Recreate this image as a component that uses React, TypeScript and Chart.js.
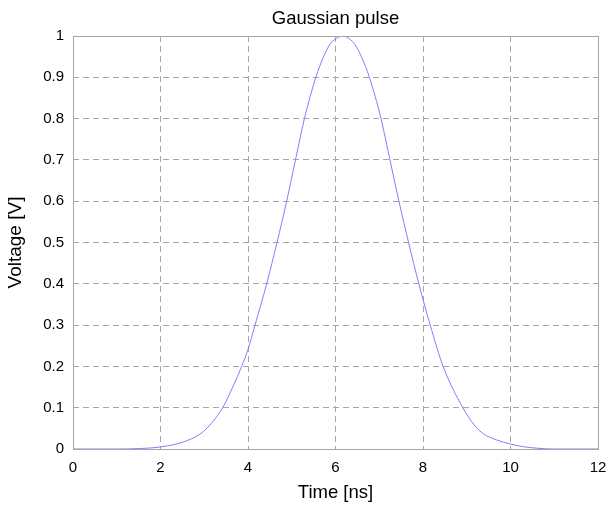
import React, { useEffect, useRef } from "react";
import { Chart, registerables } from "chart.js";

Chart.register(...registerables);

// Time [ns] samples
const times = [
  0, 1.0, 1.5, 2.0, 2.52, 2.9, 3.13, 3.42, 3.66, 3.855, 4.0, 4.16, 4.427,
  4.663, 4.884, 5.085, 5.29, 5.55, 5.72, 5.874, 6.0, 6.16, 6.32, 6.44, 6.6,
  6.775, 7.04, 7.245, 7.45, 7.67, 7.905, 8.165, 8.46, 8.91, 9.17, 9.38, 9.68,
  10.0, 10.29, 10.6, 11.0, 12.0,
];
// Voltage [V] at those times
const voltages = [
  0, 0, 0.001, 0.005, 0.017, 0.036, 0.058, 0.1, 0.152, 0.2, 0.241, 0.3, 0.4,
  0.5, 0.6, 0.7, 0.8, 0.9, 0.948, 0.98, 0.993, 1.0, 0.993, 0.98, 0.948, 0.9,
  0.8, 0.7, 0.6, 0.5, 0.4, 0.3, 0.2, 0.1, 0.058, 0.037, 0.022, 0.012, 0.0056,
  0.002, 0, 0,
];

const xTickValues = [0, 2, 4, 6, 8, 10, 12];
const xTickLabels = ["0", "2", "4", "6", "8", "10", "12"];
const yTickValues = [0, 0.1, 0.2, 0.3, 0.4, 0.5, 0.6, 0.7, 0.8, 0.9, 1];
const yTickLabels = ["0", "0.1", "0.2", "0.3", "0.4", "0.5", "0.6", "0.7", "0.8", "0.9", "1"];

const titleText = "Gaussian pulse";
const xTitle = "Time [ns]";
const yTitle = "Voltage [V]";

const FONT = "'Liberation Sans', Arial, Helvetica, sans-serif";
const GRID = "#a6a6a6";

function labelFor(values: number[], labels: string[], v: number): string {
  for (let i = 0; i < values.length; i++) {
    if (Math.abs(values[i] - v) < 1e-6) return labels[i];
  }
  return "";
}

const boxPlugin = {
  id: "boxBorder",
  afterDatasetsDraw(chart: any) {
    const { ctx, chartArea } = chart;
    ctx.save();
    ctx.strokeStyle = GRID;
    ctx.lineWidth = 1;
    ctx.setLineDash([]);
    ctx.strokeRect(
      Math.round(chartArea.left) + 0.5,
      Math.round(chartArea.top) + 0.5,
      Math.round(chartArea.right - chartArea.left),
      Math.round(chartArea.bottom - chartArea.top)
    );
    // title centred over the plot area
    ctx.fillStyle = "#000";
    ctx.font = `18.5px ${FONT}`;
    ctx.textAlign = "center";
    ctx.textBaseline = "alphabetic";
    ctx.fillText(titleText, (chartArea.left + chartArea.right) / 2, 24.3);
    ctx.restore();
  },
};

export default function App() {
  const ref = useRef<HTMLCanvasElement | null>(null);

  useEffect(() => {
    if (!ref.current) return;
    const chart = new Chart(ref.current, {
      type: "line",
      data: {
        datasets: [
          {
            data: times.map((t, i) => ({ x: t, y: voltages[i] })),
            borderColor: "#7f7fff",
            borderWidth: 1,
            pointRadius: 0,
            fill: false,
            cubicInterpolationMode: "monotone",
          },
        ],
      },
      options: {
        animation: false,
        responsive: false,
        maintainAspectRatio: false,
        layout: { padding: { left: 0, right: 11, top: 0, bottom: 0 } },
        plugins: {
          legend: { display: false },
          tooltip: { enabled: false },
          title: {
            display: true,
            text: titleText,
            color: "rgba(0,0,0,0)",
            font: { family: FONT, size: 18, weight: "normal" },
            padding: { top: 7.2, bottom: 7.2 },
          },
        },
        scales: {
          x: {
            type: "linear",
            min: 0,
            max: 12,
            afterBuildTicks(scale: any) {
              scale.ticks = xTickValues.map((v) => ({ value: v }));
            },
            afterFit(scale: any) {
              scale.height = 57;
              scale.paddingLeft = 0;
              scale.paddingRight = 0;
            },
            ticks: {
              color: "#000",
              font: { family: FONT, size: 15 },
              padding: 10,
              maxRotation: 0,
              callback: (v: any) => labelFor(xTickValues, xTickLabels, Number(v)),
            },
            grid: {
              color: GRID,
              lineWidth: 1,
              drawTicks: false,
            },
            border: { display: false, dash: [6, 4] },
            title: {
              display: true,
              text: xTitle,
              color: "#000",
              font: { family: FONT, size: 18.5 },
              padding: { top: 0, bottom: 2 },
            },
          },
          y: {
            type: "linear",
            min: 0,
            max: 1,
            afterBuildTicks(scale: any) {
              scale.ticks = yTickValues.map((v) => ({ value: v }));
            },
            afterFit(scale: any) {
              scale.width = 73;
            },
            ticks: {
              color: "#000",
              font: { family: FONT, size: 15 },
              padding: 9,
              callback: (v: any) => labelFor(yTickValues, yTickLabels, Number(v)),
            },
            grid: {
              color: GRID,
              lineWidth: 1,
              drawTicks: false,
            },
            border: { display: false, dash: [6, 4] },
            title: {
              display: true,
              text: yTitle,
              color: "#000",
              font: { family: FONT, size: 19 },
              padding: { top: 4.3, bottom: 0 },
            },
          },
        },
      },
      plugins: [boxPlugin],
    } as any);
    return () => chart.destroy();
  }, []);

  return (
    <div style={{ position: "fixed", left: 0, top: 0, width: 609, height: 506, background: "#fff" }}>
      <canvas ref={ref} width={609} height={506} style={{ width: 609, height: 506, display: "block" }} />
    </div>
  );
}
